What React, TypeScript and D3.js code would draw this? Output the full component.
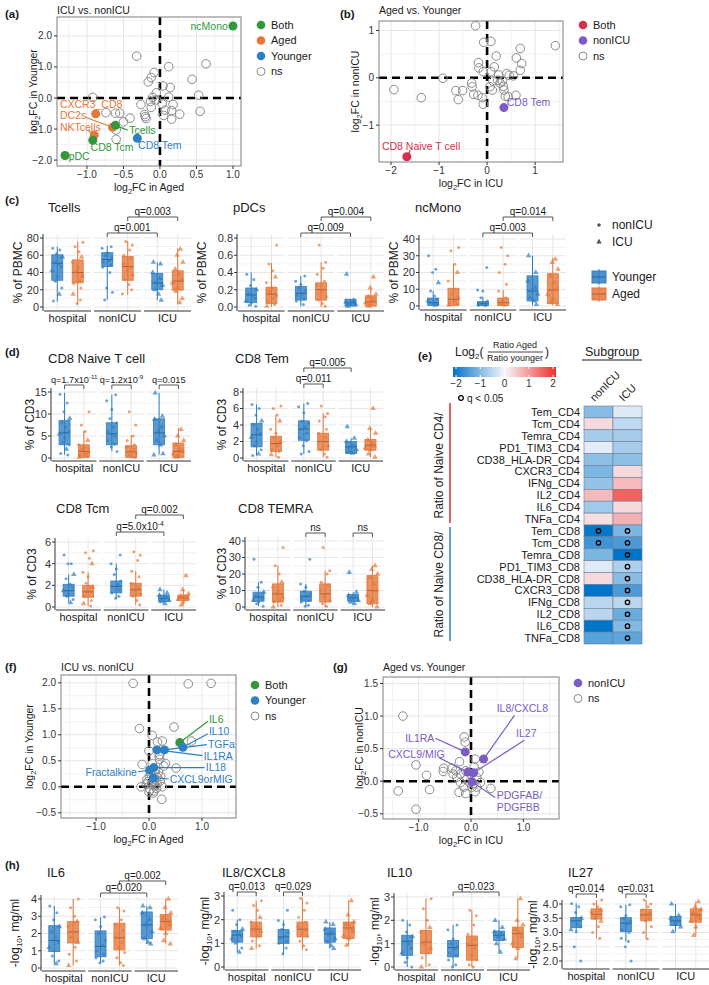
import React from 'react';
import * as d3 from 'd3';

const FONT = '"Liberation Sans", Arial, Helvetica, sans-serif';
const INK = '#1a1a1a';
const TICK = '#333333';
const GRID = '#e6e6e6';
const GRID_MINOR = '#f2f2f2';

const C_BOTH = '#34973a';
const C_AGED = '#e4773b';
const C_YOUNG = '#2f7fc3';
const C_BOTH_B = '#d7304c';
const C_NONICU = '#7a5cc4';
const C_NS = '#8a8a8a';

// ---------------- scatter data ----------------
// (a) ICU vs nonICU (cells)
const aNs = [[-0.32,1.35],[0.63,1.10],[0.12,1.01],[-0.08,0.82],[-0.12,0.66],[-0.16,0.52],[0.44,0.60],[0.04,0.39],[0.14,0.34],[0.53,0.09],[0.55,-0.43],[-0.05,0.17],[-0.10,0.02],[0.12,0.03],[-0.92,0.02],[-0.13,-0.11],[-0.26,-0.21],[-0.12,-0.30],[0.03,-0.19],[0.18,-0.21],[0.07,-0.39],[0.16,-0.41],[0.27,-0.52],[0.05,-0.56],[0.16,-0.68],[-0.21,-0.53],[-0.19,-0.66],[-0.74,-0.47],[-0.61,-0.49],[-0.55,-0.49],[-0.41,-0.65],[-0.50,-0.77],[-0.60,-1.03],[-0.60,-1.33],[-0.05,-0.06],[-0.2,-0.6]];
const aHitNames = ['ncMono', 'CXCR3_CD8', 'DC2s', 'NKTcells', 'Tcells', 'CD8 Tcm', 'CD8 Tem', 'pDC'];
const aHitX = [1.0, -0.88, -0.65, -0.9, -0.61, -0.92, -0.31, -1.3];
const aHitY = [2.32, -0.51, -0.94, -1.19, -0.88, -1.36, -1.3, -1.85];
const aHitGrp = ['Both', 'Aged', 'Aged', 'Aged', 'Both', 'Both', 'Younger', 'Both'];
// label anchor (data units), text-anchor, segment start
const aLab = [[0.93,2.32,'end'],[-1.37,-0.2,'start'],[-1.37,-0.56,'start',-1.02,-0.62],[-1.37,-0.95,'start',-0.99,-1.03],[-0.42,-1.05,'start',-0.44,-1.04],[-0.95,-1.57,'start'],[-0.3,-1.52,'start'],[-1.25,-1.88,'start']];

// (b) Aged vs Younger (cells)
const bNs = [[-0.24,1.10],[-0.07,0.75],[0.08,0.77],[1.42,0.68],[0.69,0.62],[0.19,0.46],[0.61,0.42],[0.72,0.30],[0.69,0.16],[-0.18,0.32],[-0.17,0.21],[-0.08,0.13],[0.08,0.13],[0.15,0.23],[0.24,0.06],[0.41,0.09],[0.46,0.05],[0.55,0.04],[-0.92,-0.01],[-1.94,-0.25],[-1.37,-0.42],[-0.65,-0.27],[-0.51,-0.27],[-0.60,-0.46],[-0.32,-0.11],[-0.31,-0.19],[-0.28,-0.35],[-0.19,-0.37],[-0.10,-0.42],[-0.08,-0.56],[0.06,-0.19],[0.11,-0.26],[0.22,-0.05],[0.27,-0.11],[0.34,-0.18],[0.35,-0.26],[0.38,-0.39],[0.44,-0.40],[0.60,-0.37],[0.12,-0.07],[0.32,-0.07]];
const bHitNames = ['CD8 Tem', 'CD8 Naive T cell'];
const bHitX = [0.35, -1.67];
const bHitY = [-0.63, -1.67];
const bHitGrp = ['nonICU', 'Both'];
const bLab = [[0.41,-0.52,'start'],[-2.19,-1.44,'start',-1.6,-1.53]];

// (f) ICU vs nonICU (cytokines)
const fNs = [[-0.30,1.99],[0.74,1.98],[1.17,1.99],[-0.18,1.12],[0.47,1.15],[0.16,0.86],[0.25,0.88],[0.06,0.99],[0.80,0.88],[0.0,0.69],[0.19,0.59],[0.31,0.45],[0.2,0.53],[0.51,0.36],[-0.13,0.43],[0.11,0.27],[0.15,0.19],[0.21,0.11],[0.07,0.08],[-0.04,0.14],[0.02,-0.05],[-0.15,0.0],[0.25,0.0],[0.24,-0.24],[0.09,-0.08],[0.01,0.2],[0.12,0.33],[0.28,0.4],[0.15,0.05],[0.05,0.05],[0.1,0.1],[0.12,0.02],[-0.02,0.1],[0.03,0.25],[0.18,0.28],[0.22,0.2],[0.08,-0.12],[0.14,-0.03],[-0.05,0.05],[0.06,0.45],[0.2,0.62],[0.0,-0.1],[0.1,0.15]];
const fHitNames = ['IL6', 'IL10', 'TGFa', 'IL1RA', 'IL18', 'Fractalkine', 'CXCL9orMIG'];
const fHitX = [0.58, 0.64, 0.29, 0.15, 0.09, 0.01, 0.08];
const fHitY = [0.85, 0.76, 0.71, 0.71, 0.37, 0.32, 0.17];
const fHitGrp = ['Both', 'Younger', 'Younger', 'Younger', 'Younger', 'Younger', 'Younger'];
const fLab = [[1.13,1.3,'start',1.11,1.26],[1.13,1.06,'start',1.11,1.02],[1.11,0.82,'start',1.09,0.81],[1.03,0.58,'start',1.01,0.6],[1.07,0.37,'start',1.05,0.37],[-0.23,0.29,'end',-0.21,0.29],[0.39,0.15,'start',0.37,0.15]];

// (g) Aged vs Younger (cytokines)
const gNs = [[-1.30,1.0],[-0.13,0.68],[-0.11,0.6],[-1.05,0.25],[-0.85,0.09],[-1.39,-0.15],[-0.79,-0.13],[-1.05,-0.43],[-0.52,0.20],[-0.53,0.15],[-0.36,0.2],[-0.22,0.3],[0.08,0.34],[-0.34,0.11],[-0.27,0.06],[-0.2,-0.02],[-0.23,-0.17],[-0.1,-0.19],[0.08,-0.16],[0.38,-0.11],[0.15,0.14],[-0.1,0.16],[-0.08,0.04],[0.05,-0.04],[0.11,0.06],[-0.14,-0.09],[-0.01,0.11],[0.06,0.22],[0.18,-0.02],[0.02,-0.09],[-0.2,0.11],[-0.29,0.16],[-0.03,-0.02],[0.11,-0.09]];
const gHitNames = ['IL8/CXCL8', 'IL27', 'IL1RA', 'CXCL9/MIG', 'PDGFAB/\nPDGFBB'];
const gHitX = [0.24, 0.05, -0.11, -0.06, 0.02];
const gHitY = [0.34, 0.13, 0.45, 0.14, -0.01];
const gHitGrp = ['nonICU', 'nonICU', 'nonICU', 'nonICU', 'nonICU'];
const gLab = [[0.49,1.12,'start',0.83,1.01],[0.86,0.73,'start',1.02,0.63],[-0.7,0.66,'end',-0.68,0.66],[-0.5,0.41,'end',-0.61,0.36],[0.49,-0.22,'start',0.46,-0.25]];

// ---------------- box plot data ----------------
// order of groups: hospital-Younger, hospital-Aged, nonICU-Younger, nonICU-Aged, ICU-Younger, ICU-Aged
// stats: [lower whisker, q1, median, q3, upper whisker]
const tcellsStats = [[6,31,50.7,60.5,70],[4,28,40,54.6,76],[8.6,47,55,63,71],[14,31,47,58.5,76],[8,20,28,39,52],[4,19.5,30,42,68]];
const tcellsPts = [[68,66,62,58,52,50,47,42,35,30,22,15,7],[75,70,64,58,52,46,41,36,31,27,22,15,8,4],[70,68,63,60,57,54,52,49,46,40,22,17,8],[76,72,66,60,56,50,46,42,37,32,26,20,15],[52,50,40,33,28,25,20,15,8],[67,60,52,44,38,32,28,22,18,10,5]];
const pdcStats = [[0.01,0.05,0.14,0.22,0.4],[0,0.04,0.15,0.23,0.51],[0.01,0.08,0.16,0.24,0.36],[0,0.08,0.2,0.28,0.52],[0.01,0.01,0.05,0.09,0.09],[0,0.01,0.06,0.13,0.23]];
const pdcPts = [[0.38,0.32,0.25,0.2,0.16,0.13,0.1,0.07,0.05,0.02,0.01],[0.72,0.5,0.42,0.35,0.28,0.22,0.18,0.14,0.1,0.06,0.03,0.01],[0.36,0.3,0.26,0.22,0.19,0.16,0.13,0.1,0.07,0.03],[0.72,0.52,0.45,0.38,0.3,0.25,0.2,0.16,0.12,0.08,0.04,0.01],[0.38,0.08,0.06,0.05,0.04,0.03,0.01],[0.35,0.22,0.15,0.12,0.09,0.07,0.05,0.03,0.01]];
const ncmStats = [[0,0.4,2,4.7,9],[0,0.4,4,10.6,25],[0,0.2,1.4,2.6,5.5],[0,0.2,2,4.7,9.5],[0.4,3,9,18,30],[0.4,1.4,9.5,19.3,29]];
const ncmPts = [[30,22,20,14,9,6,4,3,2,1.5,1,0.5],[35,33,25,20,15,10,7,5,3,2,1,0.5],[23,9.5,9,5,3,2,1.5,1,0.5,0.2],[35,30,25,20,13,9,5,3,2,1,0.5],[30,20,15,11,9,7,5,3,1],[28,26,22,18,14,10,7,4,2,1]];
const naiveStats = [[0.75,3,5.7,8.5,14.8],[0,0.15,1.5,3,6.1],[1.5,3,5.5,8,14.4],[0,0.15,1.4,2.8,5.2],[0.75,3,5.7,8.9,14.8],[0,0.15,1.5,3.4,6.8]];
const naivePts = [[14.5,12.5,10.5,9,8,7,6,5.5,4.5,3.5,3,2,1,0.7],[10.5,7.5,6,4,3,2.5,2,1.5,1,0.7,0.4,0.2],[14.4,13,11,9,8,7,6,5,4,3.2,2.5,1.5],[10.5,7.5,5,4,3,2.5,2,1.5,1,0.6,0.3,0.1],[14.8,9.5,8.8,7,6,5,4,3,1,0.7],[6.5,5,4,3,2,1.5,1,0.5,0.2]];
const temStats = [[0.3,1.35,2.8,4.2,6.5],[0.1,0.8,1.75,2.65,5.2],[0.5,2.15,3.5,4.5,6.6],[0.1,0.95,2,3,5.4],[0.55,0.55,1.35,2,2.4],[0.1,0.95,1.55,2.25,3.6]];
const temPts = [[6.5,6,5.2,4.5,4,3.5,3,2.5,2,1.5,1,0.5,0.3],[6.3,6,5.2,4.5,3.5,3,2.5,2,1.5,1,0.8,0.4,0.1],[6.6,6.2,5.5,4.5,4.2,3.8,3.5,3,2.5,2.1,1.5,0.8,0.5],[6.3,5.4,5,4.5,3.5,3,2.5,2,1.5,1,0.5,0.1],[3.8,2.4,2,1.5,1.3,1,0.8,0.6],[6,3.6,3,2.2,1.8,1.5,1.2,1,0.5,0.1]];
const tcmStats = [[0.4,1,1.5,2.1,3],[0.1,0.9,1.4,2,3.2],[0.8,1.3,1.9,2.4,4],[0.2,1,1.6,2.2,3.3],[0.3,0.5,0.8,1.1,1.6],[0.2,0.6,0.85,1.1,1.6]];
const tcmPts = [[4.8,4,4,3,2.6,2.1,1.8,1.5,1.2,1,0.7,0.4],[5.2,5,4.5,4,3.2,2.8,2.2,1.8,1.4,1,0.6,0.3,0.1],[4.8,4,3.5,3,2.4,2.1,1.9,1.6,1.3,1,0.8],[5.1,4.8,4.3,3.3,2.8,2.2,1.8,1.5,1.2,1,0.6,0.2],[1.6,1.3,1.1,0.9,0.8,0.6,0.5,0.3],[2.9,1.6,1.2,1,0.9,0.8,0.7,0.5,0.2]];
const temraStats = [[0.5,3.5,6,9,15],[0,3,8,14,25],[0.5,3.5,6.5,9.5,14],[0,3,8,14,22],[2,3.5,5.5,7.5,9],[0,2,10,19,25]];
const temraPts = [[29,15,12,9,7,6,5,4,3,2,0.5],[36,25,20,15,12,10,8,6,4,3,1,0],[29,14,12,9.5,8,6.5,5,4,3,1,0.5],[36,22,20,15,13,10,8,6,4,2,0.5],[21,9,7,6,5.5,4,3,2],[25,23,20,18,14,10,7,4,2,0]];
const il6Stats = [[0.25,0.95,1.6,2.45,3.6],[0.15,1.45,2.1,2.7,4],[0.3,0.65,1.25,2.15,2.95],[0.15,1.05,1.75,2.6,3.5],[1.4,1.7,2.5,3.25,3.6],[1.4,2.2,2.7,3.1,4]];
const il6Pts = [[3.6,3.2,2.8,2.4,2.1,1.8,1.5,1.2,1,0.7,0.4,0.25],[4,3.5,3,2.7,2.4,2.1,1.8,1.5,1.2,0.8,0.4,0.15],[2.95,2.8,2.4,2,1.6,1.3,1,0.8,0.6,0.4,0.3],[3.5,3.3,2.8,2.5,2.2,1.8,1.5,1.2,0.9,0.6,0.3,0.15],[3.6,3.5,3.2,2.8,2.5,2.1,1.7,1.5,1.4],[4,3.5,3.2,2.9,2.7,2.5,2.3,2,1.6,1.4]];
const il8Stats = [[0.63,1.05,1.35,1.55,2],[0.78,1.27,1.6,1.9,2.8],[0.56,1,1.27,1.58,1.97],[0.73,1.27,1.6,1.9,2.9],[0.78,1.05,1.4,1.65,1.9],[0.92,1.2,1.65,1.9,2.8]];
const il8Pts = [[2.4,2,1.8,1.6,1.5,1.4,1.3,1.2,1.1,1,0.8,0.63],[2.8,2.6,2.4,2.1,1.9,1.7,1.6,1.5,1.3,1.1,0.9,0.78],[2.4,1.97,1.8,1.6,1.45,1.3,1.2,1.1,1,0.8,0.56],[2.9,2.7,2.4,2.1,1.9,1.7,1.6,1.4,1.3,1.1,0.9,0.73],[1.9,1.8,1.6,1.45,1.4,1.2,1.05,0.9,0.78],[2.8,2.2,1.9,1.8,1.65,1.5,1.3,1.2,0.92]];
const il10Stats = [[0,0.5,1.1,1.36,2],[0,0.57,1.07,1.57,2.93],[0,0.43,0.83,1.14,1.8],[0,0.29,0.93,1.33,2.43],[0.64,1.14,1.36,1.54,2],[0.36,0.83,1.43,1.71,2.93]];
const il10Pts = [[2,1.8,1.5,1.3,1.1,1,0.8,0.6,0.4,0.2,0],[2.93,2.5,2,1.7,1.5,1.2,1,0.8,0.6,0.4,0.1,0],[1.8,1.6,1.2,1,0.9,0.8,0.6,0.5,0.3,0.1,0],[2.43,2.2,1.8,1.4,1.2,1,0.8,0.5,0.3,0.1,0],[2,1.7,1.5,1.4,1.3,1.2,1,0.64],[2.93,2,1.8,1.6,1.45,1.3,1,0.8,0.36]];
const il27Stats = [[3.03,3.17,3.41,3.53,4.02],[2.8,3.47,3.64,3.83,4.14],[2.68,3.03,3.33,3.52,3.97],[2.78,3.41,3.62,3.81,4.14],[3.03,3.24,3.41,3.56,4],[2.9,3.36,3.62,3.83,4.08]];
const il27Pts = [[4.02,3.9,3.7,3.5,3.4,3.3,3.2,3.1,3.03,2.5,2],[4.14,4,3.9,3.8,3.7,3.6,3.5,3.4,3.2,3,2.8],[3.97,3.9,3.6,3.5,3.4,3.3,3.1,3,2.8,2.68,2.5,2],[4.14,4,3.9,3.8,3.7,3.6,3.5,3.4,3.2,3,2.78],[4,3.6,3.5,3.4,3.3,3.2,3.03],[4.08,3.9,3.8,3.7,3.6,3.5,3.4,3.2,2.9]];

// significance brackets: [from facet, from group, to facet, to group, label, level]
const tcellsQ = [['nonICU','Younger','ICU','Younger','q=0.001',0],['nonICU','Aged','ICU','Aged','q=0.003',1]];
const pdcQ = [['nonICU','Younger','ICU','Younger','q=0.009',0],['nonICU','Aged','ICU','Aged','q=0.004',1]];
const ncmQ = [['nonICU','Younger','ICU','Younger','q=0.003',0],['nonICU','Aged','ICU','Aged','q=0.014',1]];
const naiveQ = [['hospital','Younger','hospital','Aged','q=1.7x10^-11',0],['nonICU','Younger','nonICU','Aged','q=1.2x10^-9',0],['ICU','Younger','ICU','Aged','q=0.015',0]];
const temQ = [['nonICU','Younger','nonICU','Aged','q=0.011',0],['nonICU','Younger','ICU','Younger','q=0.005',1]];
const tcmQ = [['nonICU','Younger','ICU','Younger','q=5.0x10^-4',0],['nonICU','Aged','ICU','Aged','q=0.002',1]];
const temraQ = [['nonICU','Younger','nonICU','Aged','ns',0],['ICU','Younger','ICU','Aged','ns',0]];
const il6Q = [['nonICU','Younger','ICU','Younger','q=0.020',0],['nonICU','Aged','ICU','Aged','q=0.002',1]];
const il8Q = [['hospital','Younger','hospital','Aged','q=0.013',0],['nonICU','Younger','nonICU','Aged','q=0.029',0]];
const il10Q = [['nonICU','Younger','ICU','Younger','q=0.023',0]];
const il27Q = [['hospital','Younger','hospital','Aged','q=0.014',0],['nonICU','Younger','nonICU','Aged','q=0.031',0]];

// ---------------- heatmap data ----------------
const heatRows = ['Tem_CD4','Tcm_CD4','Temra_CD4','PD1_TIM3_CD4','CD38_HLA-DR_CD4','CXCR3_CD4','IFNg_CD4','IL2_CD4','IL6_CD4','TNFa_CD4','Tem_CD8','Tcm_CD8','Temra_CD8','PD1_TIM3_CD8','CD38_HLA-DR_CD8','CXCR3_CD8','IFNg_CD8','IL2_CD8','IL6_CD8','TNFa_CD8'];
const heatCols = ['nonICU', 'ICU'];
const heatNonICU = [-0.9,0.3,-0.65,-0.15,-0.85,-1.0,-0.8,0.6,-0.7,0.25,-1.95,-1.5,-1.0,-0.2,0.3,-2.0,-0.5,-0.5,-2.0,-1.3];
const heatICU = [-0.2,-0.45,-0.65,-0.65,-0.85,0.3,0.6,1.5,0.3,0.7,-1.0,-1.4,-2.0,-0.6,-0.9,-1.4,-0.5,-1.15,-0.95,-1.25];
const heatSigNonICU = [0,0,0,0,0,0,0,0,0,0,1,1,0,0,0,0,0,0,0,0];
const heatSigICU = [0,0,0,0,0,0,0,0,0,0,1,1,1,1,1,1,1,1,1,1];
const heatTicks = [-2, -1, 0, 1, 2];

const FACETS = ['hospital', 'nonICU', 'ICU'];
const GROUPS = ['Younger', 'Aged'];
const GROUP_COL: any = { Younger: C_YOUNG, Aged: C_AGED };
const JIT = [-0.35, 0.2, -0.05, 0.4, -0.2, 0.1, 0.3, -0.4, 0.0, -0.15, 0.35, 0.15, -0.3, 0.25];
const triPath = d3.symbol().type(d3.symbolTriangle).size(13)() as string;

function Log2({ rest, sub = 7.5 }: any) {
  return (
    <>
      log<tspan dy={3} fontSize={sub}>2</tspan><tspan dy={-3}>{rest}</tspan>
    </>
  );
}

function Scatter(p: any) {
  const x = d3.scaleLinear().domain(p.xDom).range([p.x0, p.x1]);
  const y = d3.scaleLinear().domain(p.yDom).range([p.y1, p.y0]);
  const fmt = p.fmt ? d3.format(p.fmt) : d3.format('');
  const mid = (t: number[]) => {
    const step = t[1] - t[0];
    return [t[0] - step / 2, ...t.map(v => v + step / 2)];
  };
  const xm = mid(p.xTicks).filter((v: number) => v > p.xDom[0] && v < p.xDom[1]);
  const ym = mid(p.yTicks).filter((v: number) => v > p.yDom[0] && v < p.yDom[1]);
  return (
    <g fontFamily={FONT}>
      <text x={p.tagX} y={p.tagY} fontSize={11.5} fontWeight="bold" fill={INK}>{p.tag}</text>
      <text x={p.x0} y={p.titleY} fontSize={10.5} fill={INK}>{p.title}</text>
      <rect x={p.x0} y={p.y0} width={p.x1 - p.x0} height={p.y1 - p.y0} fill="white" />
      {xm.map((v: number) => <line key={'xm' + v} x1={x(v)} x2={x(v)} y1={p.y0} y2={p.y1} stroke={GRID_MINOR} />)}
      {ym.map((v: number) => <line key={'ym' + v} y1={y(v)} y2={y(v)} x1={p.x0} x2={p.x1} stroke={GRID_MINOR} />)}
      {p.xTicks.map((v: number) => <line key={'xg' + v} x1={x(v)} x2={x(v)} y1={p.y0} y2={p.y1} stroke={GRID} />)}
      {p.yTicks.map((v: number) => <line key={'yg' + v} y1={y(v)} y2={y(v)} x1={p.x0} x2={p.x1} stroke={GRID} />)}
      <line x1={x(0)} x2={x(0)} y1={p.y0} y2={p.y1} stroke="black" strokeWidth={2.6} strokeDasharray="8 5" />
      <line y1={y(0)} y2={y(0)} x1={p.x0} x2={p.x1} stroke="black" strokeWidth={2.6} strokeDasharray="8 5" />
      {p.ns.map((d: number[], i: number) => (
        <circle key={'ns' + i} cx={x(d[0])} cy={y(d[1])} r={4.3} fill="none" stroke={C_NS} strokeWidth={1} />
      ))}
      {p.hitNames.map((n: string, i: number) => {
        const L = p.lab[i];
        return L.length > 3 ? (
          <line key={'sg' + i} x1={x(L[3])} y1={y(L[4])} x2={x(p.hitX[i])} y2={y(p.hitY[i])} stroke={p.colors[p.hitGrp[i]]} strokeWidth={1.2} />
        ) : null;
      })}
      {p.hitNames.map((n: string, i: number) => (
        <circle key={'h' + i} cx={x(p.hitX[i])} cy={y(p.hitY[i])} r={4.5} fill={p.colors[p.hitGrp[i]]} />
      ))}
      {p.hitNames.map((n: string, i: number) => {
        const L = p.lab[i];
        const lines = n.split('\n');
        return (
          <text key={'t' + i} x={x(L[0])} y={y(L[1])} fontSize={10.5} textAnchor={L[2]} fill={p.colors[p.hitGrp[i]]}>
            {lines.map((s, k) => <tspan key={k} x={x(L[0])} dy={k === 0 ? '0.36em' : '1.1em'}>{s}</tspan>)}
          </text>
        );
      })}
      <rect x={p.x0} y={p.y0} width={p.x1 - p.x0} height={p.y1 - p.y0} fill="none" stroke="#7f7f7f" strokeWidth={1} />
      {p.xTicks.map((v: number) => (
        <g key={'xt' + v}>
          <line x1={x(v)} x2={x(v)} y1={p.y1} y2={p.y1 + 3} stroke={TICK} />
          <text x={x(v)} y={p.y1 + 12} fontSize={10} textAnchor="middle" fill={TICK}>{fmt(v)}</text>
        </g>
      ))}
      {p.yTicks.map((v: number) => (
        <g key={'yt' + v}>
          <line x1={p.x0 - 3} x2={p.x0} y1={y(v)} y2={y(v)} stroke={TICK} />
          <text x={p.x0 - 5} y={y(v)} dy="0.35em" fontSize={10} textAnchor="end" fill={TICK}>{fmt(v)}</text>
        </g>
      ))}
      <text x={(p.x0 + p.x1) / 2} y={p.y1 + 25} fontSize={10.5} textAnchor="middle" fill={INK}><Log2 rest={p.xTitle} /></text>
      <text transform={`translate(${p.yTitleX},${(p.y0 + p.y1) / 2}) rotate(-90)`} fontSize={10.5} textAnchor="middle" fill={INK}><Log2 rest={p.yTitle} /></text>
      {p.legend.map((g: string, i: number) => (
        <g key={'lg' + g} transform={`translate(${p.legX},${p.legY + i * 15.5})`}>
          {g === 'ns'
            ? <circle r={4} fill="none" stroke={C_NS} strokeWidth={1} />
            : <circle r={4.3} fill={p.colors[g]} />}
          <text x={10} dy="0.36em" fontSize={11} fill={INK}>{g}</text>
        </g>
      ))}
    </g>
  );
}

function QLabel({ s }: any) {
  const parts = String(s).split('^');
  return (
    <>
      {parts[0]}
      {parts[1] ? <tspan dy={-4} fontSize="0.68em">{parts[1]}</tspan> : null}
    </>
  );
}

function BoxPanel({ cfg, stats, pts, brackets }: any) {
  const t = cfg.ticks;
  const y = d3.scaleLinear().domain([t[0], t[t.length - 1]]).range([cfg.px0, cfg.pxN]);
  const top = cfg.pxN - (cfg.padT ?? 4);
  const bot = cfg.px0 + (cfg.padB ?? 4);
  const fx = d3.scaleBand().domain(FACETS).range([cfg.xL + 1, cfg.xR]).paddingInner(0.06);
  const gx = d3.scalePoint().domain(GROUPS).range([0, fx.bandwidth()]).padding(0.65);
  const cx = (f: string, g: string) => (fx(f) ?? 0) + (gx(g) ?? 0);
  const fmt = cfg.fmt ? d3.format(cfg.fmt) : (v: number) => String(v);
  const minor = t.slice(1).map((v: number, i: number) => (v + t[i]) / 2);
  const bw = 11;
  const cells: any[] = [];
  FACETS.forEach((f, fi) => GROUPS.forEach((g, gi) => cells.push({ f, g, i: fi * 2 + gi })));
  return (
    <g fontFamily={FONT}>
      <text x={cfg.titleX} y={cfg.titleY} fontSize={13} fill={INK}>{cfg.title}</text>
      {FACETS.map(f => (
        <g key={f}>
          {minor.map((v: number) => <line key={'m' + v} x1={fx(f)} x2={(fx(f) ?? 0) + fx.bandwidth()} y1={y(v)} y2={y(v)} stroke={GRID_MINOR} />)}
          {t.map((v: number) => <line key={'t' + v} x1={fx(f)} x2={(fx(f) ?? 0) + fx.bandwidth()} y1={y(v)} y2={y(v)} stroke={GRID} />)}
          {GROUPS.map(g => <line key={g} x1={cx(f, g)} x2={cx(f, g)} y1={top} y2={bot} stroke={GRID} />)}
          <line x1={fx(f)} x2={(fx(f) ?? 0) + fx.bandwidth()} y1={bot} y2={bot} stroke={TICK} strokeWidth={1} />
          <text x={(fx(f) ?? 0) + fx.bandwidth() / 2} y={bot + 11} fontSize={11} textAnchor="middle" fill={INK}>{f}</text>
        </g>
      ))}
      <line x1={cfg.xL} x2={cfg.xL} y1={top} y2={bot} stroke={TICK} />
      {t.map((v: number) => (
        <g key={'yt' + v}>
          <line x1={cfg.xL - 3} x2={cfg.xL} y1={y(v)} y2={y(v)} stroke={TICK} />
          <text x={cfg.xL - 4} y={y(v)} dy="0.36em" fontSize={11} textAnchor="end" fill={TICK}>{fmt(v)}</text>
        </g>
      ))}
      <text transform={`translate(${cfg.ylabX},${(top + bot) / 2}) rotate(-90)`} fontSize={12} textAnchor="middle" fill={INK}>
        {cfg.ylab === 'log' ? <>-log<tspan dy={3} fontSize={8}>10</tspan><tspan dy={-3}>, mg/ml</tspan></> : cfg.ylab}
      </text>
      {cells.map(({ f, g, i }) => {
        const s = stats[i];
        const c = GROUP_COL[g];
        const xc = cx(f, g);
        return (
          <g key={'b' + i}>
            <line x1={xc} x2={xc} y1={y(s[0])} y2={y(s[4])} stroke={c} strokeWidth={1} />
            <rect x={xc - bw / 2} y={y(s[3])} width={bw} height={Math.max(1, y(s[1]) - y(s[3]))} fill={c} fillOpacity={0.8} stroke={c} strokeWidth={0.8} />
            <line x1={xc - bw / 2} x2={xc + bw / 2} y1={y(s[2])} y2={y(s[2])} stroke={d3.color(c)!.darker(0.6).toString()} strokeWidth={1} />
          </g>
        );
      })}
      {cells.map(({ f, g, i }) => {
        const c = GROUP_COL[g];
        const xc = cx(f, g);
        return pts[i].map((v: number, k: number) => {
          const px = xc + JIT[(k + i * 3) % JIT.length] * 13;
          const tri = f === 'ICU' || (f === 'hospital' && k % 4 === 3);
          return tri
            ? <path key={'p' + i + '-' + k} d={triPath} transform={`translate(${px},${y(v)})`} fill={c} fillOpacity={0.7} />
            : <circle key={'p' + i + '-' + k} cx={px} cy={y(v)} r={1.5} fill={c} fillOpacity={0.7} />;
        });
      })}
      {brackets.map((b: any[], k: number) => {
        const x1 = cx(b[0], b[1]);
        const x2 = cx(b[2], b[3]);
        const yb = cfg.brBase - (b[5] as number) * cfg.brStep;
        return (
          <g key={'q' + k}>
            <path d={`M${x1},${yb + 4}V${yb}H${x2}V${yb + 4}`} fill="none" stroke="#444" strokeWidth={0.9} />
            <text x={(x1 + x2) / 2} y={yb - 2.5} fontSize={cfg.qFont ?? 10} textAnchor="middle" fill={INK}><QLabel s={b[4]} /></text>
          </g>
        );
      })}
    </g>
  );
}

function Heatmap() {
  const color = d3.scaleLinear<string>().domain([-2, 0, 2]).range(['#0074c8', '#f7f7fb', '#f0302a']).clamp(true);
  const top = 406;
  const rowH = 11.9;
  const colX = d3.scaleBand().domain(heatCols).range([584, 642]);
  const rowY = d3.scaleBand().domain(heatRows).range([top, top + rowH * heatRows.length]);
  const barX = d3.scaleLinear().domain([-2, 2]).range([456, 553]);
  const vals: any = { nonICU: heatNonICU, ICU: heatICU };
  const sig: any = { nonICU: heatSigNonICU, ICU: heatSigICU };
  const split = top + rowH * 10;
  const bottom = top + rowH * heatRows.length;
  return (
    <g fontFamily={FONT}>
      <defs>
        <linearGradient id="hgrad" x1="0" x2="1" y1="0" y2="0">
          {[-2, -1, 0, 1, 2].map(v => <stop key={v} offset={(v + 2) / 4} stopColor={color(v)} />)}
        </linearGradient>
      </defs>
      <text x={418} y={360} fontSize={11.5} fontWeight="bold" fill={INK}>(e)</text>
      <text x={455} y={356} fontSize={12} fill={INK}>Log<tspan dy={3} fontSize={8}>2</tspan><tspan dy={-3}>(</tspan></text>
      <text x={515} y={348} fontSize={9} textAnchor="middle" fill={INK}>Ratio Aged</text>
      <line x1={488} x2={543} y1={352} y2={352} stroke={INK} strokeWidth={0.8} />
      <text x={515} y={361} fontSize={9} textAnchor="middle" fill={INK}>Ratio younger</text>
      <text x={545} y={356} fontSize={12} fill={INK}>)</text>
      <rect x={barX(-2) - 3} y={367} width={barX(2) - barX(-2) + 6} height={10} fill="url(#hgrad)" />
      {heatTicks.map(v => (
        <g key={v}>
          <line x1={barX(v)} x2={barX(v)} y1={367} y2={369} stroke="white" />
          <line x1={barX(v)} x2={barX(v)} y1={375} y2={377} stroke="white" />
          <text x={barX(v)} y={387} fontSize={10} textAnchor="middle" fill={TICK}>{d3.format('')(v)}</text>
        </g>
      ))}
      <circle cx={461} cy={398} r={2.3} fill="none" stroke="black" strokeWidth={1.3} />
      <text x={467} y={401.5} fontSize={10} fill={INK}>q &lt; 0.05</text>
      <text x={612} y={356} fontSize={12.5} textAnchor="middle" fill={INK}>Subgroup</text>
      <line x1={582} x2={642} y1={360} y2={360} stroke={INK} strokeWidth={1.2} />
      {heatCols.map(c => (
        <text key={c} transform={`translate(${(colX(c) ?? 0) + colX.bandwidth() / 2 - 4},${top - 4}) rotate(-45)`} fontSize={11} fill={INK}>{c}</text>
      ))}
      {heatRows.map((r, i) => (
        <g key={r}>
          <text x={580} y={(rowY(r) ?? 0) + rowH / 2} dy="0.36em" fontSize={11} textAnchor="end" fill={INK}>{r}</text>
          {heatCols.map(c => (
            <g key={c}>
              <rect x={colX(c)} y={rowY(r)} width={colX.bandwidth()} height={rowH} fill={color(vals[c][i])} stroke="#6d7f99" strokeWidth={0.6} />
              {sig[c][i] ? <circle cx={(colX(c) ?? 0) + colX.bandwidth() / 2} cy={(rowY(r) ?? 0) + rowH / 2} r={2.2} fill="none" stroke="black" strokeWidth={1.3} /> : null}
            </g>
          ))}
        </g>
      ))}
      <line x1={450} x2={450} y1={top - 3} y2={split - 2} stroke="#e03a3a" strokeWidth={1.6} />
      <line x1={450} x2={450} y1={split + 2} y2={bottom - 3} stroke="#3b86d0" strokeWidth={1.6} />
      <text transform={`translate(${443},${(top + split) / 2}) rotate(-90)`} fontSize={12} textAnchor="middle" fill={INK}>Ratio of Naive CD4/</text>
      <text transform={`translate(${443},${(split + bottom) / 2}) rotate(-90)`} fontSize={12} textAnchor="middle" fill={INK}>Ratio of Naive CD8/</text>
    </g>
  );
}

function BoxLegend() {
  return (
    <g fontFamily={FONT} fontSize={12} fill={INK}>
      <circle cx={599} cy={225} r={1.8} fill="#555" />
      <text x={612} y={225} dy="0.36em">nonICU</text>
      <path d={triPath} transform="translate(599,242)" fill="#555" />
      <text x={612} y={242} dy="0.36em">ICU</text>
      {[['Younger', C_YOUNG, 277], ['Aged', C_AGED, 294]].map(([n, c, yy]: any) => (
        <g key={n}>
          <line x1={599} x2={599} y1={yy - 8} y2={yy + 8} stroke={c} />
          <rect x={592} y={yy - 6} width={14} height={12} fill={c} fillOpacity={0.85} stroke={c} />
          <line x1={592} x2={606} y1={yy} y2={yy} stroke={d3.color(c)!.darker(0.6).toString()} />
          <text x={612} y={yy} dy="0.36em">{n}</text>
        </g>
      ))}
    </g>
  );
}

const colsA = { Both: C_BOTH, Aged: C_AGED, Younger: C_YOUNG };
const colsB = { Both: C_BOTH_B, nonICU: C_NONICU };

export default function App() {
  return (
    <svg width={709} height={985} style={{ position: 'absolute', left: 0, top: 0, background: 'white' }}>
      <rect width={709} height={985} fill="white" />
      <Scatter tag="(a)" tagX={5} tagY={18} titleY={14} title="ICU vs. nonICU" x0={57} x1={241} y0={17} y1={166}
        xDom={[-1.41, 1.11]} yDom={[-2.19, 2.61]} xTicks={[-1, -0.5, 0, 0.5, 1]} yTicks={[-2, -1, 0, 1, 2]} fmt=".1f"
        ns={aNs} hitNames={aHitNames} hitX={aHitX} hitY={aHitY} hitGrp={aHitGrp} lab={aLab} colors={colsA}
        xTitle="FC in Aged" yTitle="FC in Younger" yTitleX={37} legend={['Both', 'Aged', 'Younger', 'ns']} legX={261} legY={25} />
      <Scatter tag="(b)" tagX={340} tagY={18} titleY={14} title="Aged vs. Younger" x0={379} x1={563} y0={21} y1={162}
        xDom={[-2.25, 1.58]} yDom={[-1.78, 1.2]} xTicks={[-2, -1, 0, 1]} yTicks={[-1, 0, 1]}
        ns={bNs} hitNames={bHitNames} hitX={bHitX} hitY={bHitY} hitGrp={bHitGrp} lab={bLab} colors={colsB}
        xTitle="FC in ICU" yTitle="FC in nonICU" yTitleX={359} legend={['Both', 'nonICU', 'ns']} legX={583} legY={25} />

      <text x={5} y={204} fontFamily={FONT} fontSize={11.5} fontWeight="bold" fill={INK}>(c)</text>
      <BoxPanel cfg={{ title: 'Tcells', titleX: 48, titleY: 212, xL: 43, xR: 191, ticks: [0, 20, 40, 60, 80], px0: 307, pxN: 238, ylab: '% of PBMC', ylabX: 22, brBase: 233, brStep: 16 }} stats={tcellsStats} pts={tcellsPts} brackets={tcellsQ} />
      <BoxPanel cfg={{ title: 'pDCs', titleX: 233, titleY: 212, xL: 237, xR: 384, ticks: [0, 0.2, 0.4, 0.6, 0.8], fmt: '.1f', px0: 307, pxN: 238, ylab: '% of PBMC', ylabX: 206, brBase: 233, brStep: 16 }} stats={pdcStats} pts={pdcPts} brackets={pdcQ} />
      <BoxPanel cfg={{ title: 'ncMono', titleX: 415, titleY: 212, xL: 419, xR: 566, ticks: [0, 10, 20, 30, 40], px0: 306, pxN: 239, ylab: '% of PBMC', ylabX: 398, brBase: 233, brStep: 16 }} stats={ncmStats} pts={ncmPts} brackets={ncmQ} />
      <BoxLegend />

      <text x={5} y={356} fontFamily={FONT} fontSize={11.5} fontWeight="bold" fill={INK}>(d)</text>
      <BoxPanel cfg={{ title: 'CD8 Naive T cell', titleX: 48, titleY: 363, xL: 51, xR: 191, ticks: [0, 5, 10, 15], px0: 458, pxN: 392, padB: 3, ylab: '% of CD3', ylabX: 34, brBase: 385, brStep: 16, qFont: 9.2 }} stats={naiveStats} pts={naivePts} brackets={naiveQ} />
      <BoxPanel cfg={{ title: 'CD8 Tem', titleX: 235, titleY: 363, xL: 243, xR: 383, ticks: [0, 2, 4, 6, 8], px0: 458, pxN: 392, padB: 3, ylab: '% of CD3', ylabX: 226, brBase: 384, brStep: 16 }} stats={temStats} pts={temPts} brackets={temQ} />
      <BoxPanel cfg={{ title: 'CD8 Tcm', titleX: 56, titleY: 513, xL: 55, xR: 196, ticks: [0, 2, 4, 6], px0: 607, pxN: 542, padB: 3, ylab: '% of CD3', ylabX: 36, brBase: 532, brStep: 17 }} stats={tcmStats} pts={tcmPts} brackets={tcmQ} />
      <BoxPanel cfg={{ title: 'CD8 TEMRA', titleX: 238, titleY: 513, xL: 245, xR: 385, ticks: [0, 10, 20, 30, 40], px0: 607, pxN: 541, padB: 3, ylab: '% of CD3', ylabX: 226, brBase: 533, brStep: 16 }} stats={temraStats} pts={temraPts} brackets={temraQ} />

      <Heatmap />

      <Scatter tag="(f)" tagX={5} tagY={671} titleY={671} title="ICU vs. nonICU" x0={61} x1={236} y0={675} y1={818}
        xDom={[-1.66, 1.64]} yDom={[-0.6, 2.15]} xTicks={[-1, 0, 1]} yTicks={[-0.5, 0, 0.5, 1, 1.5, 2]} fmt=".1f"
        ns={fNs} hitNames={fHitNames} hitX={fHitX} hitY={fHitY} hitGrp={fHitGrp} lab={fLab} colors={colsA}
        xTitle="FC in Aged" yTitle="FC in Younger" yTitleX={33} legend={['Both', 'Younger', 'ns']} legX={255} legY={685} />
      <Scatter tag="(g)" tagX={333} tagY={671} titleY={671} title="Aged vs. Younger" x0={383} x1={559} y0={677} y1={819}
        xDom={[-1.68, 1.68]} yDom={[-0.58, 1.6]} xTicks={[-1, 0, 1]} yTicks={[-0.5, 0, 0.5, 1, 1.5]} fmt=".1f"
        ns={gNs} hitNames={gHitNames} hitX={gHitX} hitY={gHitY} hitGrp={gHitGrp} lab={gLab} colors={colsB}
        xTitle="FC in ICU" yTitle="FC in nonICU" yTitleX={363} legend={['nonICU', 'ns']} legX={578} legY={683} />

      <text x={5} y={869} fontFamily={FONT} fontSize={11.5} fontWeight="bold" fill={INK}>(h)</text>
      <BoxPanel cfg={{ title: 'IL6', titleX: 47, titleY: 877, xL: 41, xR: 178, ticks: [0, 1, 2, 3, 4], px0: 968, pxN: 899, padB: 3, ylab: 'log', ylabX: 19, brBase: 893, brStep: 12 }} stats={il6Stats} pts={il6Pts} brackets={il6Q} />
      <BoxPanel cfg={{ title: 'IL8/CXCL8', titleX: 222, titleY: 877, xL: 224, xR: 361, ticks: [0, 1, 2, 3], px0: 967, pxN: 896, padB: 3, ylab: 'log', ylabX: 209, brBase: 892, brStep: 12 }} stats={il8Stats} pts={il8Pts} brackets={il8Q} />
      <BoxPanel cfg={{ title: 'IL10', titleX: 387, titleY: 877, xL: 394, xR: 530, ticks: [0, 1, 2, 3], px0: 967, pxN: 897, padB: 3, ylab: 'log', ylabX: 379, brBase: 892, brStep: 12 }} stats={il10Stats} pts={il10Pts} brackets={il10Q} />
      <BoxPanel cfg={{ title: 'IL27', titleX: 568, titleY: 877, xL: 562, xR: 709, ticks: [2, 2.5, 3, 3.5, 4], fmt: '.1f', px0: 961, pxN: 904, padB: 8, ylab: 'log', ylabX: 537, brBase: 894, brStep: 12 }} stats={il27Stats} pts={il27Pts} brackets={il27Q} />
    </svg>
  );
}
